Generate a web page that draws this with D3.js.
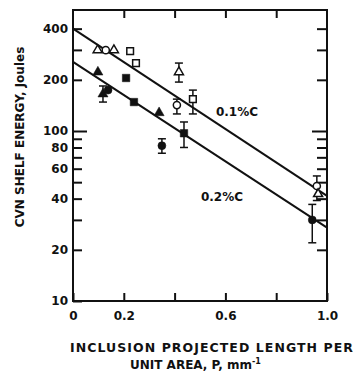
<!DOCTYPE html>
<html><head><meta charset="utf-8">
<script src="https://cdn.jsdelivr.net/npm/d3@7"></script>
<style>
body{margin:0;background:#fff;}
svg{display:block;}
text{font-family:"DejaVu Sans",sans-serif;font-weight:bold;fill:#111;}
</style></head>
<body><svg id="c" width="353" height="373"></svg>
<script>
// ---- data ----
const xTicks = [0, 0.2, 0.4, 0.6, 0.8, 1.0];
const xLabels = {"0":"0", "0.2":"0.2", "0.6":"0.6", "1":"1.0"};
const yTicks = [20,30,40,50,60,70,80,90,100,200,300,400];
const yLabels = [10,20,40,60,80,100,200,400];
const yMajor = [100];

// 0.1%C (open symbols)
const c01P     = [0.097, 0.129, 0.161, 0.225, 0.248, 0.417, 0.409, 0.472, 0.960, 0.965];
const c01E     = [299, 299, 299, 295, 251, 222, 142, 154, 47.5, 42.6];
const c01Shape = ["tri","circ","tri","sq","sq","tri","circ","sq","circ","tri"];
const c01Lo    = [null,null,null,null,null,194,126,126,39,null];
const c01Hi    = [null,null,null,null,null,251,154,174,54.4,null];

// 0.2%C (filled symbols)
const c02P     = [0.098, 0.118, 0.138, 0.209, 0.240, 0.339, 0.350, 0.437, 0.942];
const c02E     = [222, 165, 174, 205, 148, 128, 82, 97, 30];
const c02Shape = ["tri","tri","circ","sq","sq","tri","circ","sq","circ"];
const c02Lo    = [null,148,null,null,null,null,74,80,22];
const c02Hi    = [null,184,null,null,null,null,90,113,37];

// fitted lines
const lineP = [0, 1.0];
const line01 = [400, 41.5];
const line02 = [255, 27];

// ---- chart ----
const svg = d3.select("#c");
const L = 73, R = 327, T = 10, B = 301;
const x = d3.scaleLinear().domain([0, 1]).range([L, R]);
const y = d3.scaleLog().domain([10, 515]).range([B, T]);

// frame
svg.append("rect").attr("x", L).attr("y", T).attr("width", R - L).attr("height", B - T)
  .attr("fill", "none").attr("stroke", "#111").attr("stroke-width", 2);

const fmtY = d => yLabels.includes(d) ? String(d) : "";
const gL = svg.append("g").attr("transform", `translate(${L},0)`)
  .call(d3.axisLeft(y).tickValues([10, ...yTicks]).tickFormat(fmtY).tickSize(-9).tickPadding(5));
const gR = svg.append("g").attr("transform", `translate(${R},0)`)
  .call(d3.axisRight(y).tickValues(yTicks).tickFormat("").tickSize(-10));
const gB = svg.append("g").attr("transform", `translate(0,${B})`)
  .call(d3.axisBottom(x).tickValues(xTicks).tickFormat(d => xLabels[String(d)] || "").tickSize(-8).tickPadding(10));
const gT = svg.append("g").attr("transform", `translate(0,${T})`)
  .call(d3.axisTop(x).tickValues(xTicks.slice(1, -1)).tickFormat("").tickSize(-8));

[gL, gR, gB, gT].forEach(g => {
  g.select(".domain").remove();
  g.selectAll(".tick line").attr("stroke", "#111").attr("stroke-width", 2);
  g.selectAll("text").attr("font-size", 12).attr("font-family", "DejaVu Sans").attr("font-weight", "bold").attr("fill", "#111");
});
gL.selectAll(".tick").filter(d => yMajor.includes(d)).select("line").attr("x2", 14);
gR.selectAll(".tick").filter(d => yMajor.includes(d)).select("line").attr("x2", -15);

// fitted lines
const lg = d3.line().x(d => x(d[0])).y(d => y(d[1]));
[line01, line02].forEach(vals => {
  svg.append("path").datum(lineP.map((p, i) => [p, vals[i]]))
    .attr("d", lg).attr("fill", "none").attr("stroke", "#111").attr("stroke-width", 2);
});

// points
const symMap = {tri: d3.symbolTriangle, circ: d3.symbolCircle, sq: d3.symbolSquare};
const sizeMap = {tri: 44, circ: 50, sq: 56};
function drawSeries(P, E, S, Lo, Hi, filled) {
  const data = P.map((p, i) => ({p, e: E[i], s: S[i], lo: Lo[i], hi: Hi[i]}));
  const eb = svg.append("g").attr("stroke", "#111").attr("stroke-width", 1.5);
  data.filter(d => d.lo != null).forEach(d => {
    const cx = x(d.p);
    eb.append("line").attr("x1", cx).attr("x2", cx).attr("y1", y(d.lo)).attr("y2", y(d.hi));
    eb.append("line").attr("x1", cx - 4).attr("x2", cx + 4).attr("y1", y(d.lo)).attr("y2", y(d.lo));
    eb.append("line").attr("x1", cx - 4).attr("x2", cx + 4).attr("y1", y(d.hi)).attr("y2", y(d.hi));
  });
  svg.append("g").selectAll("path").data(data).join("path")
    .attr("transform", d => `translate(${x(d.p)},${y(d.e)})`)
    .attr("d", d => d3.symbol().type(symMap[d.s]).size(sizeMap[d.s] * (filled ? 1 : 0.8))())
    .attr("fill", filled ? "#111" : "#fff")
    .attr("stroke", "#111").attr("stroke-width", filled ? 0.5 : 1.5);
}
drawSeries(c01P, c01E, c01Shape, c01Lo, c01Hi, false);
drawSeries(c02P, c02E, c02Shape, c02Lo, c02Hi, true);

// annotations
svg.append("text").attr("x", 237).attr("y", 115.5).attr("text-anchor", "middle").attr("font-size", 12).text("0.1%C");
svg.append("text").attr("x", 222).attr("y", 200.5).attr("text-anchor", "middle").attr("font-size", 12).text("0.2%C");

// axis titles
svg.append("text").attr("transform", "translate(24,137) rotate(-90)").attr("text-anchor", "middle")
  .attr("font-size", 12).text("CVN SHELF ENERGY, Joules");
svg.append("text").attr("x", 70).attr("y", 352).attr("font-size", 12.5)
  .attr("textLength", 283).attr("lengthAdjust", "spacing").text("INCLUSION PROJECTED LENGTH PER");
const t2 = svg.append("text").attr("x", 130).attr("y", 369).attr("font-size", 12);
t2.append("tspan").text("UNIT AREA, P, mm");
t2.append("tspan").attr("font-size", 8).attr("dy", -5).text("-1");
</script></body></html>
